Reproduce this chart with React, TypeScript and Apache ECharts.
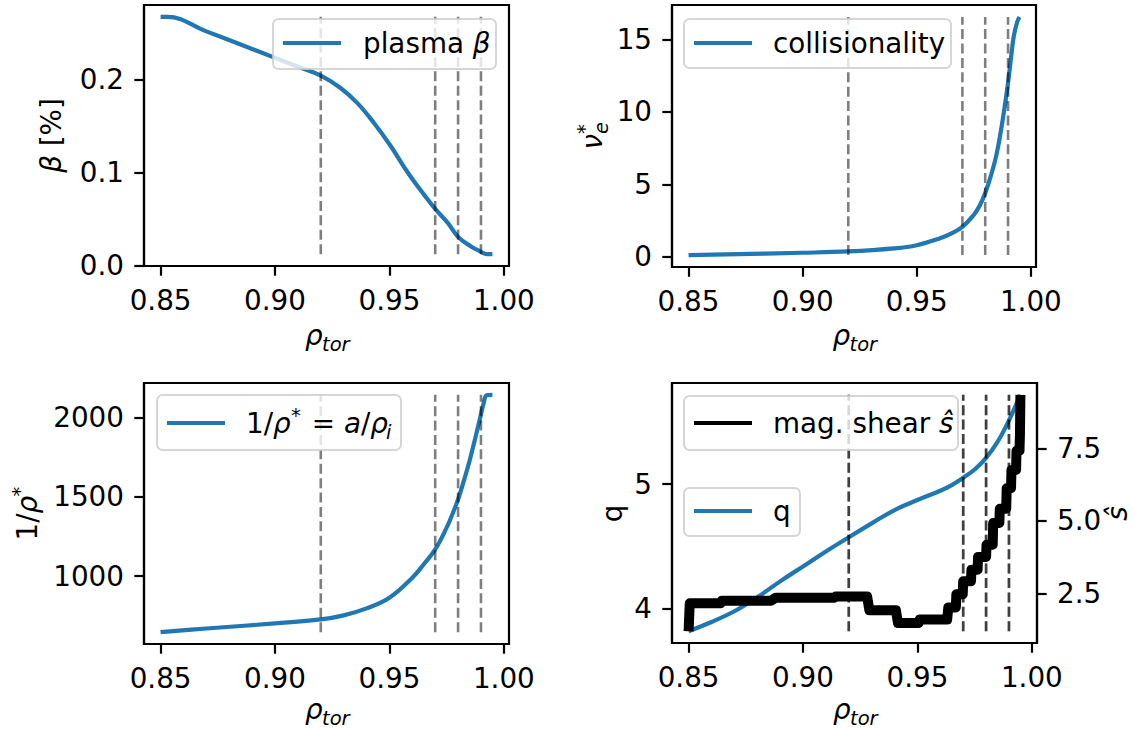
import React, { useEffect, useRef } from "react";
import * as echarts from "echarts";

// ---------- data ----------
const xTicks = [0.85, 0.9, 0.95, 1.0];
const vlineX = [0.92, 0.97, 0.98, 0.99];

const betaX = [0.85, 0.853, 0.87, 0.8847, 0.9, 0.9095, 0.92, 0.9285, 0.9358, 0.943, 0.9504, 0.958, 0.9655, 0.97, 0.9755, 0.98, 0.9855, 0.99, 0.9925, 0.995];
const betaY = [0.267, 0.267, 0.2514, 0.2376, 0.223, 0.214, 0.204, 0.191, 0.175, 0.154, 0.129, 0.1, 0.075, 0.061, 0.046, 0.031, 0.021, 0.015, 0.0125, 0.0125];
const betaTicks = [0.0, 0.1, 0.2];

const nuX = [0.85, 0.9, 0.92, 0.94, 0.95, 0.96, 0.965, 0.97, 0.975, 0.9775, 0.98, 0.9825, 0.985, 0.9875, 0.99, 0.9915, 0.9925, 0.994, 0.995];
const nuY = [0.12, 0.28, 0.37, 0.58, 0.8, 1.27, 1.6, 2.07, 2.9, 3.5, 4.4, 5.6, 7.1, 9.3, 12.0, 14.0, 15.2, 16.2, 16.55];
const nuTicks = [0, 5, 10, 15];

const invX = [0.85, 0.87, 0.9, 0.92, 0.93, 0.94, 0.95, 0.96, 0.965, 0.97, 0.975, 0.9775, 0.98, 0.9825, 0.985, 0.9875, 0.99, 0.991, 0.9925, 0.995];
const invY = [646, 669, 701, 726, 752, 796, 863, 989, 1074, 1168, 1305, 1390, 1484, 1600, 1726, 1870, 2021, 2080, 2140, 2143];
const invTicks = [1000, 1500, 2000];

const qX = [0.85, 0.86, 0.87, 0.88, 0.89, 0.9, 0.91, 0.92, 0.93, 0.94, 0.95, 0.96, 0.965, 0.97, 0.975, 0.98, 0.985, 0.99, 0.995];
const qY = [3.819, 3.893, 3.979, 4.091, 4.219, 4.339, 4.459, 4.573, 4.685, 4.792, 4.872, 4.947, 4.992, 5.051, 5.117, 5.211, 5.339, 5.512, 5.717];
const qTicks = [4, 5];

const shearX = [0.85, 0.8505, 0.864, 0.8645, 0.886, 0.888, 0.9136, 0.9143, 0.928, 0.929, 0.9406, 0.9415, 0.9505, 0.951, 0.963, 0.9635, 0.9668, 0.967, 0.9698, 0.97, 0.9734, 0.9736, 0.9763, 0.9765, 0.98, 0.9802, 0.9829, 0.9831, 0.9858, 0.986, 0.9888, 0.989, 0.9909, 0.9911, 0.9931, 0.9933, 0.9946, 0.9948, 0.995];
const shearY = [1.2, 2.16, 2.16, 2.25, 2.25, 2.35, 2.35, 2.4, 2.4, 1.92, 1.92, 1.48, 1.48, 1.6, 1.6, 2.02, 2.02, 2.47, 2.47, 2.92, 2.92, 3.32, 3.32, 3.76, 3.76, 4.18, 4.18, 4.93, 4.93, 5.42, 5.42, 6.13, 6.13, 6.76, 6.76, 7.42, 7.42, 8.0, 9.35];
const shearTicks = [2.5, 5.0, 7.5];

// ---------- style ----------
const FONT = "DejaVu Sans";
const FS = 27.8;
const SUB = 19.5;
const C0 = "#1f77b4";
const LW = 4.2;
const AXW = 2.2;

const pad = (arr: number[]) => {
  const lo = Math.min(...arr);
  const hi = Math.max(...arr);
  const m = (hi - lo) * 0.05;
  return [lo - m, hi + m];
};

const allX = [...betaX, ...nuX, ...invX, ...qX, ...shearX];
const [XMIN, XMAX] = pad(allX);

const grids = [
  { left: 144, top: 5, width: 365, height: 261 },
  { left: 672, top: 5, width: 364, height: 262 },
  { left: 144, top: 383, width: 365, height: 261 },
  { left: 672, top: 383, width: 365, height: 260 },
];

const labelStyle = { fontSize: FS, fontFamily: FONT, color: "#000" };

function xAxis(i: number) {
  return {
    type: "value",
    gridIndex: i,
    min: XMIN,
    max: XMAX,
    axisLine: { show: true, onZero: false, lineStyle: { color: "#000", width: AXW } },
    axisTick: { show: true, customValues: xTicks, length: 9.7, lineStyle: { color: "#000", width: AXW } },
    axisLabel: { ...labelStyle, margin: 20, customValues: xTicks, formatter: (v: number) => v.toFixed(2) },
    splitLine: { show: false },
  };
}

function yAxis(i: number, data: number[], ticks: number[], dec: number, position = "left") {
  const [lo, hi] = pad(data);
  return {
    type: "value",
    gridIndex: i,
    position,
    min: lo,
    max: hi,
    axisLine: { show: true, onZero: false, lineStyle: { color: "#000", width: AXW } },
    axisTick: { show: true, customValues: ticks, length: 9.7, lineStyle: { color: "#000", width: AXW } },
    axisLabel: { ...labelStyle, margin: 20, customValues: ticks, formatter: (v: number) => v.toFixed(dec) },
    splitLine: { show: false },
  };
}

function curve(xs: number[], ys: number[], g: number, y: number, color: string, width: number, smooth: number | boolean) {
  return {
    type: "line",
    xAxisIndex: g,
    yAxisIndex: y,
    data: xs.map((x, i) => [x, ys[i]]),
    symbol: "none",
    showSymbol: false,
    smooth,
    lineStyle: { color, width, cap: "butt", join: "round" },
    z: 3,
    silent: true,
  };
}

function vlines(g: number, y: number, ys: number[]) {
  const lo = Math.min(...ys);
  const hi = Math.max(...ys);
  return vlineX.map((x) => ({
    type: "line",
    xAxisIndex: g,
    yAxisIndex: y,
    data: [
      [x, lo],
      [x, hi],
    ],
    symbol: "none",
    showSymbol: false,
    lineStyle: { color: "rgba(0,0,0,0.5)", width: 2.6, type: [10, 4.4] },
    z: 4,
    silent: true,
  }));
}

type Piece = { t: string; x: number; y: number; size?: number; italic?: boolean; align?: string };

function txt(p: Piece) {
  return {
    type: "text",
    x: p.x,
    y: p.y,
    z: 101,
    style: {
      text: p.t,
      fill: "#000",
      fontSize: p.size || FS,
      fontFamily: FONT,
      fontStyle: p.italic ? "italic" : "normal",
      align: p.align || "left",
      textAlign: p.align || "left",
      verticalAlign: "middle",
      textVerticalAlign: "middle",
      rich: { i: { fontStyle: "italic", fontSize: p.size || FS, fontFamily: FONT } },
    },
  };
}

function group(x: number, y: number, rotation: number, pieces: Piece[]) {
  return { type: "group", x, y, rotation, z: 101, children: pieces.map(txt) };
}

function legendBox(x: number, y: number, w: number, h: number, hy: number, color: string, pieces: Piece[]) {
  return {
    type: "group",
    z: 100,
    children: [
      {
        type: "rect",
        z: 100,
        shape: { x, y, width: w, height: h, r: 5.5 },
        style: { fill: "rgba(255,255,255,0.8)", stroke: "rgba(204,204,204,0.8)", lineWidth: 2 },
      },
      {
        type: "line",
        z: 101,
        shape: { x1: x + 10, y1: hy, x2: x + 68, y2: hy },
        style: { stroke: color, lineWidth: LW },
      },
      ...pieces.map(txt),
    ],
  };
}

function xLabel(cx: number, cy: number) {
  return group(cx, cy, 0, [
    { t: "ρ", x: -21.5, y: 0, italic: true },
    { t: "tor", x: -4.5, y: 9, size: SUB, italic: true },
  ]);
}

export default function App() {
  const ref = useRef<HTMLDivElement>(null);
  useEffect(() => {
    if (!ref.current) return;
    const chart = echarts.init(ref.current, undefined, { renderer: "svg" });
    const R = Math.PI / 2;
    const option = {
      animation: false,
      grid: grids.map((g) => ({ ...g, show: true, borderColor: "#000", borderWidth: AXW, backgroundColor: "transparent", containLabel: false })),
      xAxis: [xAxis(0), xAxis(1), xAxis(2), xAxis(3)],
      yAxis: [
        yAxis(0, betaY, betaTicks, 1),
        yAxis(1, nuY, nuTicks, 0),
        yAxis(2, invY, invTicks, 0),
        yAxis(3, qY, qTicks, 0),
        yAxis(3, shearY, shearTicks, 1, "right"),
      ],
      series: [
        curve(betaX, betaY, 0, 0, C0, LW, 0.4),
        ...vlines(0, 0, betaY),
        curve(nuX, nuY, 1, 1, C0, LW, 0.4),
        ...vlines(1, 1, nuY),
        curve(invX, invY, 2, 2, C0, LW, 0.4),
        ...vlines(2, 2, invY),
        curve(qX, qY, 3, 3, C0, LW, 0.4),
        ...vlines(3, 3, qY),
        curve(shearX, shearY, 3, 4, "#000", 10, false),
        ...vlines(3, 4, shearY),
      ],
      graphic: [
        // x labels
        xLabel(326.5, 335),
        xLabel(854, 335),
        xLabel(326.5, 709),
        xLabel(854.5, 709),
        // y labels
        group(61, 135.5, R, [{ t: "{i|β} [%]", x: 0, y: -9.6, align: "center" }]),
        group(602, 136, R, [
          { t: "ν", x: -13.5, y: -9.6, italic: true },
          { t: "*", x: 2, y: -17.75, size: SUB },
          { t: "e", x: 2, y: -0.75, size: SUB, italic: true },
        ]),
        group(37, 513.5, R, [
          { t: "1/{i|ρ}", x: -27, y: -9.6 },
          { t: "*", x: 17, y: -17.75, size: SUB },
        ]),
        group(622, 513.5, R, [{ t: "q", x: 0, y: -9.6, align: "center" }]),
        group(1127, 513.5, R, [{ t: "ŝ", x: 0, y: -9.6, align: "center", italic: true }]),
        // legends
        legendBox(273, 19, 223, 50, 43, C0, [{ t: "plasma {i|β}", x: 363, y: 43.5 }]),
        legendBox(684, 19, 267, 49, 43, C0, [{ t: "collisionality", x: 773, y: 43.5 }]),
        legendBox(157, 395, 244, 55, 423, C0, [
          { t: "1/{i|ρ}", x: 246, y: 423.5 },
          { t: "*", x: 291, y: 415.5, size: SUB },
          { t: " = {i|a}/{i|ρ}", x: 303, y: 423.5 },
          { t: "i", x: 386, y: 432.5, size: SUB, italic: true },
        ]),
        legendBox(684, 396, 274, 54, 423, "#000", [{ t: "mag. shear {i|ŝ}", x: 773, y: 423.5 }]),
        legendBox(684, 488, 116, 48, 511, C0, [{ t: "q", x: 773, y: 511.5 }]),
      ],
    };
    chart.setOption(option as any);
    return () => chart.dispose();
  }, []);
  return <div ref={ref} style={{ position: "fixed", left: 0, top: 0, width: 1135, height: 729, background: "#fff" }} />;
}
